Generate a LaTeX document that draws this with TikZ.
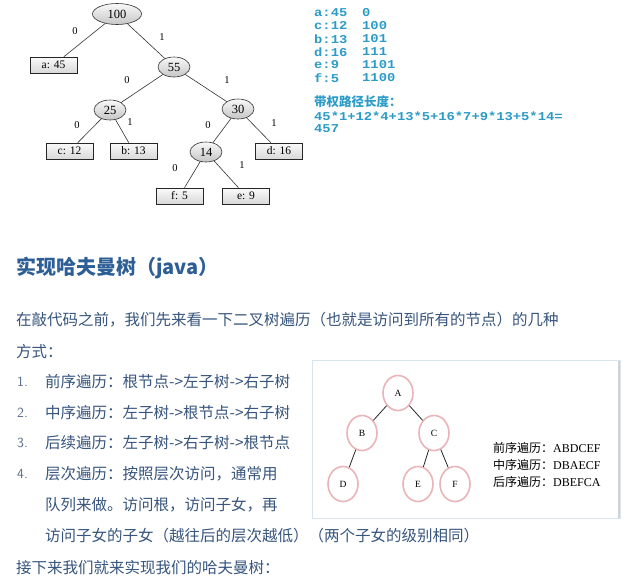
\documentclass[tikz,border=0pt]{standalone}
\usepackage{fontspec}
\setmainfont{Liberation Serif}
\newfontfamily\cjk{Noto Sans CJK SC}
\newfontfamily\codefont[FakeStretch=1.15]{Liberation Mono}
\usetikzlibrary{shapes.geometric}
\definecolor{codec}{RGB}{45,155,200}
\definecolor{headc}{RGB}{45,95,150}
\definecolor{bodyc}{RGB}{55,85,125}
\definecolor{numc}{RGB}{90,110,140}
\definecolor{pinkc}{RGB}{235,180,185}
\definecolor{framec}{RGB}{215,230,238}
\begin{document}
\begin{tikzpicture}[x=1pt,y=-1pt,
  hnode/.style={ellipse, draw=gray!40!black, line width=0.6pt, top color=gray!5, bottom color=gray!45, minimum width=32, minimum height=20, inner sep=0pt, font=\fontsize{12.5}{12.5}\selectfont},
  leaf/.style={rectangle, draw=gray!30!black, line width=0.7pt, top color=gray!4, bottom color=gray!30, minimum width=47, minimum height=16, inner sep=0pt, font=\fontsize{11.5}{11.5}\selectfont},
  hedge/.style={draw=gray!40!black, line width=0.6pt},
  bit/.style={font=\fontsize{10.5}{10.5}\selectfont, inner sep=0pt},
  codeline/.style={anchor=west, inner sep=0pt, text=codec, font=\codefont\bfseries\fontsize{12}{12}\selectfont},
  body/.style={anchor=west, inner sep=0pt, text=bodyc, font=\cjk\fontsize{15.5}{15.5}\selectfont},
  num/.style={anchor=west, inner sep=0pt, text=numc, font=\fontsize{14}{14}\selectfont\sffamily},
  tnode/.style={ellipse, draw=pinkc, line width=1.6pt, fill=white, minimum width=30, minimum height=35, inner sep=0pt, font=\fontsize{9.5}{9.5}\selectfont},
  tedge/.style={draw=gray!30!black, line width=0.8pt},
  trav/.style={anchor=west, inner sep=0pt, font=\fontsize{12}{12}\selectfont}
]
\useasboundingbox[fill=white] (0,0) rectangle (642,582);

% ---------- Huffman tree ----------
\node[hnode, minimum width=49, minimum height=21] (n100) at (117,14) {100};
\node[leaf] (a45) at (53.5,65) {a: 45};
\node[hnode] (n55) at (174,67) {55};
\node[hnode] (n25) at (110,110) {25};
\node[hnode] (n30) at (238,109) {30};
\node[leaf] (c12) at (69.5,151) {c: 12};
\node[leaf] (b13) at (133.5,151) {b: 13};
\node[hnode] (n14) at (206,152) {14};
\node[leaf] (d16) at (279,151) {d: 16};
\node[leaf] (f5) at (179.5,196) {f: 5};
\node[leaf] (e9) at (246,196) {e: 9};

\draw[hedge] (n100) -- (a45);
\draw[hedge] (n100) -- (n55);
\draw[hedge] (n55) -- (n25);
\draw[hedge] (n55) -- (n30);
\draw[hedge] (n25) -- (c12);
\draw[hedge] (n25) -- (b13);
\draw[hedge] (n30) -- (n14);
\draw[hedge] (n30) -- (d16);
\draw[hedge] (n14) -- (f5);
\draw[hedge] (n14) -- (e9);

\node[bit] (l1) at (75,31) {0};
\node[bit] (l2) at (162,37) {1};
\node[bit] (l3) at (127,80) {0};
\node[bit] (l4) at (227,80) {1};
\node[bit] (l5) at (77,125) {0};
\node[bit] (l6) at (130,122) {1};
\node[bit] (l7) at (208,125) {0};
\node[bit] (l8) at (274,123) {1};
\node[bit] (l9) at (175,168) {0};
\node[bit] (l10) at (242,165) {1};

% ---------- codes ----------
\node[codeline] (c1) at (314,13) {a:45};
\node[codeline] (c2) at (314,26) {c:12};
\node[codeline] (c3) at (314,39) {b:13};
\node[codeline] (c4) at (314,52) {d:16};
\node[codeline] (c5) at (314,65) {e:9};
\node[codeline] (c6) at (314,78) {f:5};
\node[codeline] (v1) at (362,13) {0};
\node[codeline] (v2) at (362,26) {100};
\node[codeline] (v3) at (362,39) {101};
\node[codeline] (v4) at (362,52) {111};
\node[codeline] (v5) at (362,65) {1101};
\node[codeline] (v6) at (362,78) {1100};
\node[anchor=west, inner sep=0pt, text=codec, font=\cjk\bfseries\fontsize{12.5}{12.5}\selectfont] (wp) at (314,102) {带权路径长度：};
\node[codeline] (c7) at (314,116) {45*1+12*4+13*5+16*7+9*13+5*14=};
\node[codeline] (c8) at (314,129) {457};

% ---------- heading and text ----------
\node[anchor=west, inner sep=0pt, text=headc, font=\cjk\bfseries\fontsize{20}{20}\selectfont] (head) at (16,268) {实现哈夫曼树（java）};
\node[body] (p1) at (16,320) {在敲代码之前，我们先来看一下二叉树遍历（也就是访问到所有的节点）的几种};
\node[body] (p2) at (16,352) {方式：};
\node[num] (k1) at (17,382) {1.};
\node[num] (k2) at (17,413) {2.};
\node[num] (k3) at (17,443) {3.};
\node[num] (k4) at (17,474) {4.};
\node[body] (i1) at (45,382) {前序遍历：根节点->左子树->右子树};
\node[body] (i2) at (45,413) {中序遍历：左子树->根节点->右子树};
\node[body] (i3) at (45,443) {后续遍历：左子树->右子树->根节点};
\node[body] (i4) at (45,474) {层次遍历：按照层次访问，通常用};
\node[body] (i5) at (45,505) {队列来做。访问根，访问子女，再};
\node[body] (i6) at (45,536) {访问子女的子女（越往后的层次越低）（两个子女的级别相同）};
\node[body] (p3) at (16,568) {接下来我们就来实现我们的哈夫曼树：};

% ---------- traversal picture ----------
\draw[draw=framec, line width=0.8pt] (312,360) rectangle (620,518);
\draw[draw=gray!35, line width=2pt] (619,361) -- (619,518);

\node[tnode] (A) at (398,393) {A};
\node[tnode] (B) at (362,433) {B};
\node[tnode] (C) at (434,433) {C};
\node[tnode] (D) at (343,484) {D};
\node[tnode] (E) at (418,484) {E};
\node[tnode] (F) at (455,484) {F};
\draw[tedge] (A) -- (B);
\draw[tedge] (A) -- (C);
\draw[tedge] (B) -- (D);
\draw[tedge] (C) -- (E);
\draw[tedge] (C) -- (F);

\node[trav] (t1) at (493,448) {{\cjk 前序遍历：}ABDCEF};
\node[trav] (t2) at (493,465) {{\cjk 中序遍历：}DBAECF};
\node[trav] (t3) at (493,482) {{\cjk 后序遍历：}DBEFCA};
\end{tikzpicture}
\end{document}
